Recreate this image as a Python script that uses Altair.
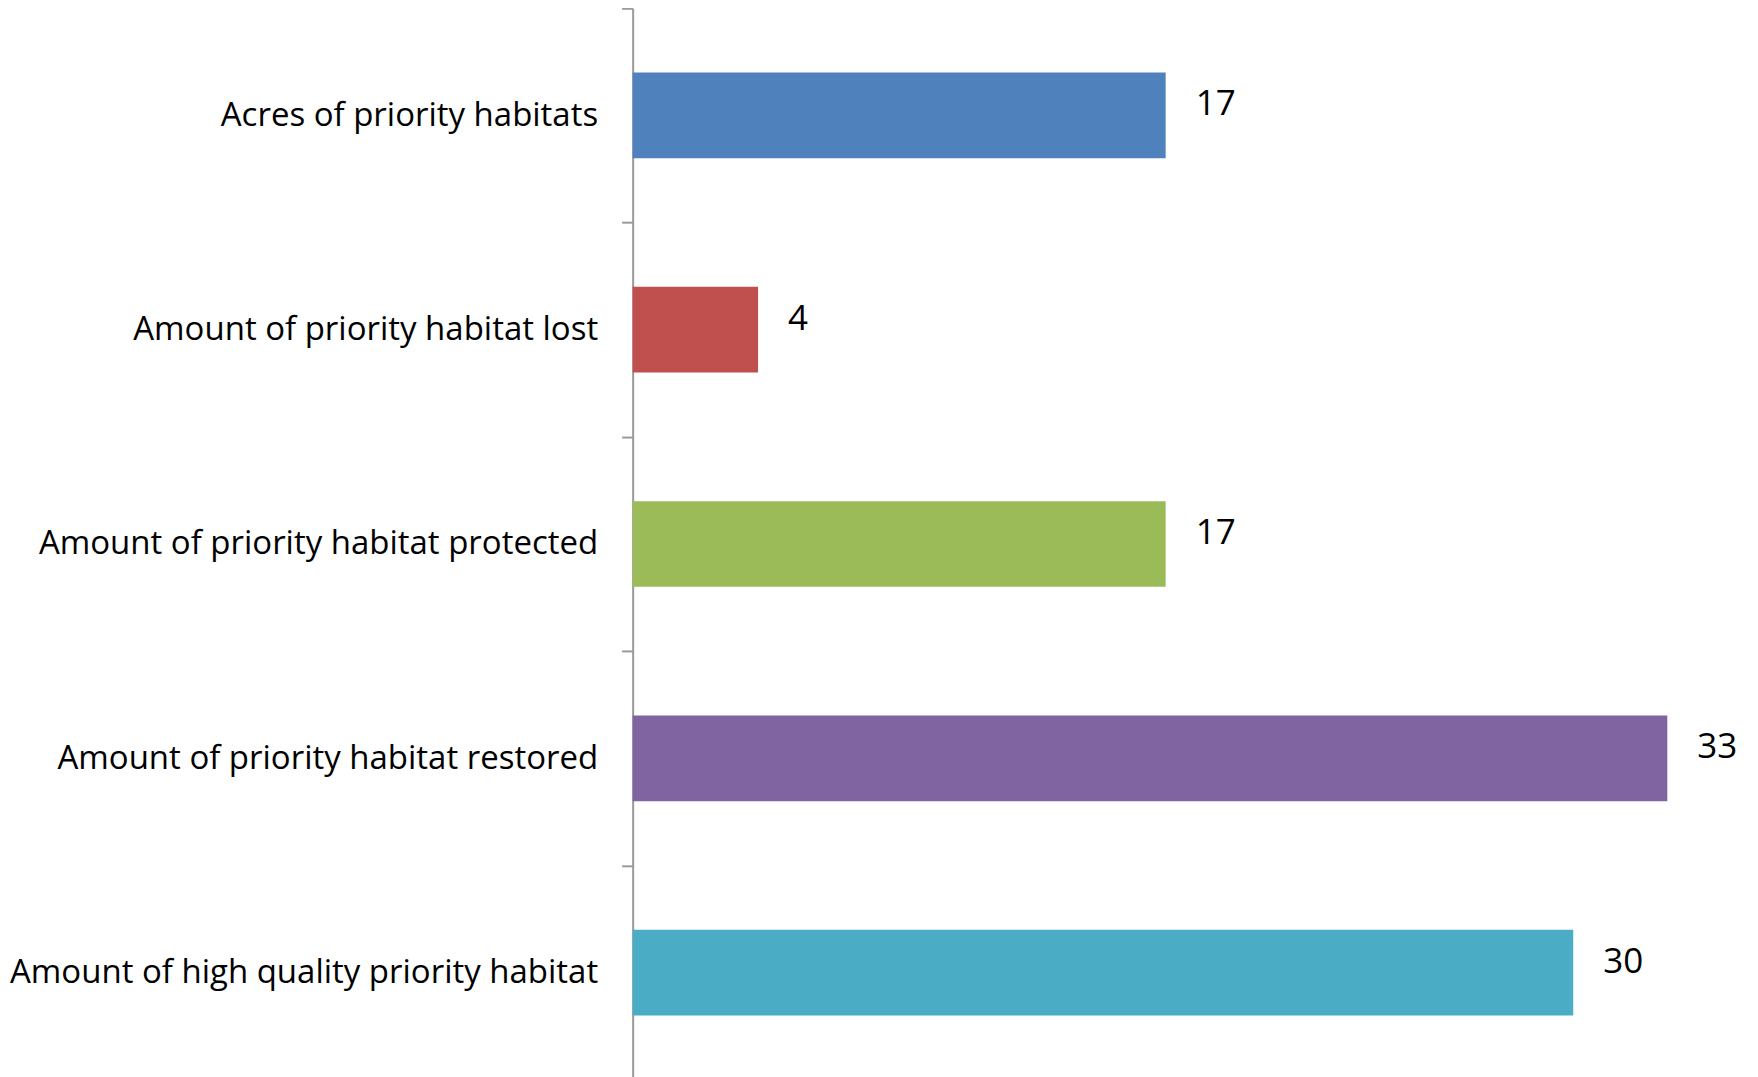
import altair as alt
import pandas as pd

categories = [
    "Acres of priority habitats",
    "Amount of priority habitat lost",
    "Amount of priority habitat protected",
    "Amount of priority habitat restored",
    "Amount of high quality priority habitat",
]
values = [17, 4, 17, 33, 30]
colors = ["#4F81BD", "#C0504D", "#9BBB59", "#8064A2", "#4BACC6"]

df = pd.DataFrame({"category": categories, "value": values, "color": colors})

FONT = "Open Sans"

y = alt.Y(
    "category:N",
    sort=categories,
    scale=alt.Scale(paddingInner=0, paddingOuter=0),
    axis=alt.Axis(
        title=None,
        labelFont=FONT,
        labelFontSize=33,
        labelColor="#000000",
        labelPadding=24,
        labelLimit=1000,
        domainColor="#9A9A9A",
        domainWidth=2,
        tickColor="#9A9A9A",
        tickWidth=2,
        tickSize=11,
        tickBand="extent",
        grid=False,
    ),
)
x = alt.X("value:Q", scale=alt.Scale(domain=[0, 35], nice=False), axis=None)

bars = alt.Chart(df).mark_bar(height={"band": 0.4}).encode(
    x=x, y=y, color=alt.Color("color:N", scale=None)
)
labels = alt.Chart(df).mark_text(
    align="left", baseline="middle", dx=30, dy=-11, font=FONT, fontSize=35, color="#000000"
).encode(x=x, y=alt.Y("category:N", sort=categories), text="value:Q")

chart = (
    alt.layer(bars, labels)
    .properties(
        width=1098,
        height=1072,
        background="#FFFFFF",
        autosize=alt.AutoSizeParams(type="none"),
        padding={"left": 625, "top": 0, "right": 20, "bottom": 0},
    )
    .configure_view(stroke=None, strokeWidth=0)
)

chart.save("out.html", embed_options={"renderer": "svg", "actions": False})
